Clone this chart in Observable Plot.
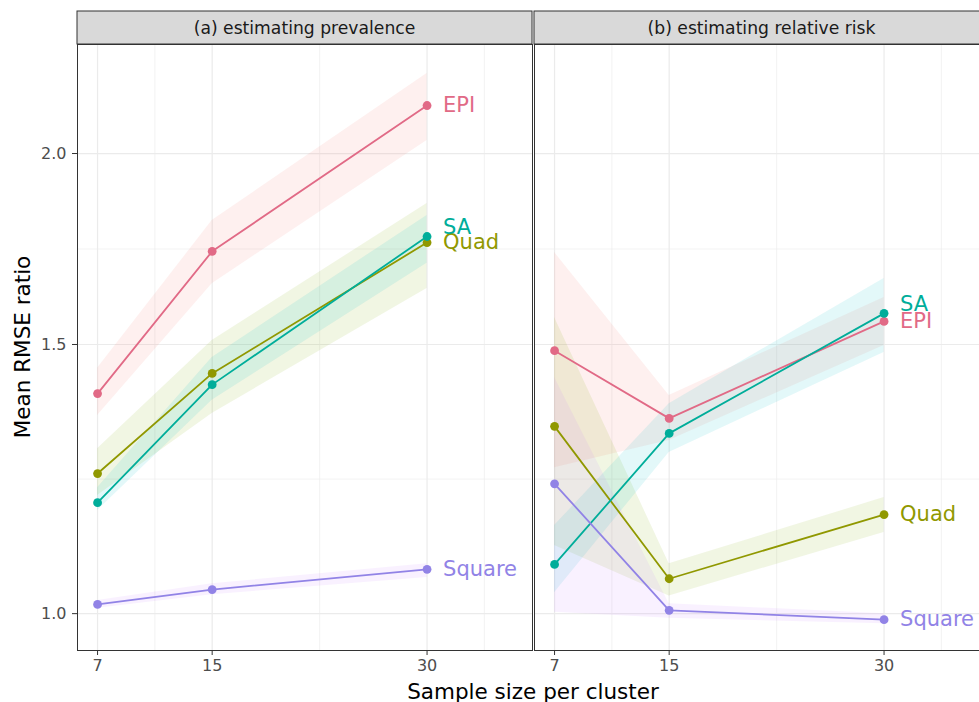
<!DOCTYPE html>
<html><head><meta charset="utf-8">
<script src="https://cdn.jsdelivr.net/npm/d3@7"></script>
<script src="https://cdn.jsdelivr.net/npm/@observablehq/plot@0.6"></script>
<style>
html,body{margin:0;padding:0;overflow:hidden;background:#fff;}
#chart{width:979px;height:702px;overflow:hidden;position:relative;}
#chart svg{max-width:none !important;width:989px;height:702px;display:block;}
</style></head><body><div id="chart"></div>
<script>
// ---- data ----
const panels = ["(a) estimating prevalence", "(b) estimating relative risk"];
const methods = ["EPI", "Quad", "SA", "Square"];
const sampleSizes = [7, 15, 30];

// panel (a): rows = methods (EPI, Quad, SA, Square), cols = sample sizes
const prevMean = [
  [1.393, 1.726, 2.150],
  [1.235, 1.436, 1.749],
  [1.182, 1.412, 1.765],
  [1.014, 1.037, 1.069]
];
const prevLo = [
  [1.348, 1.644, 2.040],
  [1.195, 1.352, 1.632],
  [1.168, 1.379, 1.695],
  [1.008, 1.029, 1.056]
];
const prevHi = [
  [1.447, 1.808, 2.256],
  [1.282, 1.509, 1.855],
  [1.209, 1.471, 1.822],
  [1.020, 1.046, 1.078]
];
// panel (b)
const rrMean = [
  [1.486, 1.342, 1.553],
  [1.326, 1.054, 1.161],
  [1.077, 1.312, 1.572],
  [1.216, 1.005, 0.991]
];
const rrLo = [
  [1.246, 1.298, 1.498],
  [1.108, 1.027, 1.130],
  [1.032, 1.275, 1.482],
  [1.002, 0.993, 0.985]
];
const rrHi = [
  [1.723, 1.389, 1.610],
  [1.562, 1.078, 1.191],
  [1.142, 1.372, 1.657],
  [1.427, 1.015, 1.000]
];
const yTicks = [1.0, 1.5, 2.0];

// ---- styles ----
const lineColors = ["#E16A86", "#909800", "#00AD9A", "#9183E6"];
const fillColors = ["#F8766D", "#7CAE00", "#00BFC4", "#C77CFF"];
const labelDy = [[0, 0, -9, 0], [0, 0, -9, 0]];

// ---- build table ----
const rows = [];
panels.forEach((p, pi) => {
  const M = pi === 0 ? prevMean : rrMean;
  const L = pi === 0 ? prevLo : rrLo;
  const H = pi === 0 ? prevHi : rrHi;
  methods.forEach((m, mi) => sampleSizes.forEach((n, ni) => {
    rows.push({panel: p, method: m, n, mean: M[mi][ni], lo: L[mi][ni], hi: H[mi][ni]});
  }));
});

// gridlines (ggplot-style minor breaks: midpoints in transformed space)
const xMinor = [];
for (let i = 0; i < sampleSizes.length - 1; i++) xMinor.push((sampleSizes[i] + sampleSizes[i + 1]) / 2);
xMinor.push(sampleSizes[sampleSizes.length - 1] + (sampleSizes[1] - sampleSizes[0]) / 2);
const yMinor = [];
for (let i = 0; i < yTicks.length - 1; i++) yMinor.push(Math.sqrt(yTicks[i] * yTicks[i + 1]));

const marks = [
  Plot.ruleX(xMinor, {stroke: "#EBEBEB", strokeWidth: 0.6}),
  Plot.ruleY(yMinor, {stroke: "#EBEBEB", strokeWidth: 0.6}),
  Plot.ruleX(sampleSizes, {stroke: "#EBEBEB", strokeWidth: 1.2}),
  Plot.ruleY(yTicks, {stroke: "#EBEBEB", strokeWidth: 1.2})
];
methods.forEach((m, mi) => {
  marks.push(Plot.areaY(rows.filter(d => d.method === m), {
    fx: "panel", x: "n", y1: "lo", y2: "hi", fill: fillColors[mi], fillOpacity: 0.11, curve: "linear"
  }));
});
methods.forEach((m, mi) => {
  marks.push(Plot.line(rows.filter(d => d.method === m), {
    fx: "panel", x: "n", y: "mean", stroke: lineColors[mi], strokeWidth: 1.8
  }));
});
methods.forEach((m, mi) => {
  marks.push(Plot.dot(rows.filter(d => d.method === m), {
    fx: "panel", x: "n", y: "mean", fill: lineColors[mi], r: 4.4, stroke: "none"
  }));
});
panels.forEach((p, pi) => methods.forEach((m, mi) => {
  marks.push(Plot.text(rows.filter(d => d.panel === p && d.method === m && d.n === sampleSizes[sampleSizes.length - 1]), {
    fx: "panel", x: "n", y: "mean", text: "method", fill: lineColors[mi],
    dx: 16, dy: labelDy[pi][mi], textAnchor: "start", fontSize: 21
  }));
}));
marks.push(Plot.frame({stroke: "#333333", strokeWidth: 1}));
marks.push(Plot.axisX({ticks: sampleSizes, tickFormat: d => String(d), tickSize: 5, tickPadding: 4,
  fontSize: 16, stroke: "#333333", fill: "#4D4D4D", label: null}));
marks.push(Plot.axisY({ticks: yTicks, tickFormat: d3.format(".1f"), tickSize: 5, tickPadding: 6,
  fontSize: 16, stroke: "#333333", fill: "#4D4D4D", label: null}));

const plot = Plot.plot({
  width: 989, height: 702,
  marginLeft: 77, marginRight: 0, marginTop: 44, marginBottom: 52,
  style: {fontFamily: "DejaVu Sans", background: "#fff", overflow: "visible", maxWidth: "none"},
  fx: {domain: panels, paddingInner: 2 / 457, paddingOuter: 0, axis: null, label: null},
  x: {domain: [5.6, 37.36], label: null, axis: null},
  y: {type: "log", domain: [0.946, 2.357], label: null, axis: null},
  marks
});
plot.style.maxWidth = "none";
document.getElementById("chart").appendChild(plot);

// strips + axis titles
const svg = d3.select(plot);
const fx = plot.scale("fx");
const bw = fx.bandwidth;
const g = svg.append("g").attr("font-family", "DejaVu Sans");
panels.forEach(p => {
  const x0 = fx.apply(p);
  g.append("rect").attr("x", x0).attr("y", 11).attr("width", bw).attr("height", 33)
    .attr("fill", "#D9D9D9").attr("stroke", "#333333").attr("stroke-width", 1);
  g.append("text").attr("x", x0 + bw / 2).attr("y", 27.5).attr("text-anchor", "middle")
    .attr("dominant-baseline", "central").attr("font-size", 17.2).attr("fill", "#1A1A1A").text(p);
});
g.append("text").attr("x", (77 + 989) / 2).attr("y", 691).attr("text-anchor", "middle")
  .attr("dominant-baseline", "central").attr("font-size", 21.5).attr("fill", "#000").text("Sample size per cluster");
g.append("text").attr("transform", "translate(22,347) rotate(-90)").attr("text-anchor", "middle")
  .attr("dominant-baseline", "central").attr("font-size", 21.5).attr("fill", "#000").text("Mean RMSE ratio");
</script></body></html>
